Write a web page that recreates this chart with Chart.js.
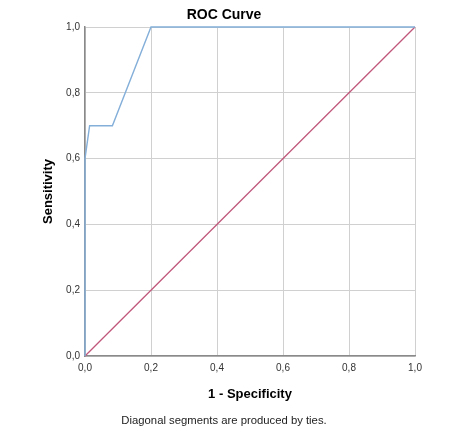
<!DOCTYPE html>
<html>
<head>
<meta charset="utf-8">
<script src="https://cdn.jsdelivr.net/npm/chart.js@4"></script>
<style>
  html, body { margin: 0; padding: 0; background: #fff; }
  #wrap { width: 476px; height: 437px; position: relative; }
</style>
</head>
<body>
<div id="wrap"><canvas id="chart"></canvas></div>
<script>
const rocX = [0, 0, 0.014, 0.083, 0.2, 1];
const rocY = [0, 0.6, 0.7, 0.7, 1, 1];
const refX = [0, 1];
const refY = [0, 1];
const tickValues = [0, 0.2, 0.4, 0.6, 0.8, 1];

const toPoints = (xs, ys) => xs.map((x, i) => ({ x: x, y: ys[i] }));
const fmt = v => v.toFixed(1).replace('.', ',');

// title and footnote drawn as plain text
const notes = {
    id: 'notes',
    afterDraw(chart) {
        const ctx = chart.ctx;
        ctx.save();
        ctx.fillStyle = '#000';
        ctx.textAlign = 'center';
        ctx.textBaseline = 'middle';
        ctx.font = 'bold 14px "Liberation Sans", Arial, sans-serif';
        ctx.fillText('ROC Curve', 224, 15);
        ctx.font = '11.3px "Liberation Sans", Arial, sans-serif';
        ctx.fillStyle = '#222';
        ctx.fillText('Diagonal segments are produced by ties.', 224, 421);
        ctx.restore();
    }
};

new Chart(document.getElementById('chart'), {
    type: 'scatter',
    data: {
        datasets: [{
            label: 'ROC',
            data: toPoints(rocX, rocY),
            showLine: true,
            clip: false,
            borderColor: '#84afd9',
            borderWidth: 1.4,
            pointRadius: 0,
            tension: 0,
        },
        {
            label: 'Reference',
            data: toPoints(refX, refY),
            showLine: true,
            clip: false,
            borderColor: '#c0587c',
            borderWidth: 1.3,
            pointRadius: 0,
        }]
    },
    options: {
        responsive: true,
        maintainAspectRatio: false,
        animation: false,
        layout: { padding: { top: 27, right: 61, left: 0, bottom: 0 } },
        plugins: { legend: { display: false }, tooltip: { enabled: false } },
        scales: {
            x: {
                min: 0,
                max: 1,
                afterFit: s => { s.height = 81; },
                afterBuildTicks: s => { s.ticks = tickValues.map(v => ({ value: v })); },
                grid: { color: '#d0d0d0', drawTicks: false },
                border: { color: '#8a8a8a', width: 1.5 },
                ticks: {
                    padding: 6,
                    color: '#333',
                    font: { family: '"Liberation Sans", Arial', size: 10 },
                    callback: v => fmt(v),
                },
                title: {
                    display: true,
                    text: '1 - Specificity',
                    color: '#000',
                    font: { family: '"Liberation Sans", Arial', size: 13, weight: 'bold' },
                    padding: { top: 0, bottom: 35 },
                }
            },
            y: {
                min: 0,
                max: 1,
                afterFit: s => { s.width = 85; },
                afterBuildTicks: s => { s.ticks = tickValues.map(v => ({ value: v })); },
                grid: { color: '#d0d0d0', drawTicks: false },
                border: { color: '#8a8a8a', width: 1.5 },
                ticks: {
                    padding: 5,
                    color: '#333',
                    font: { family: '"Liberation Sans", Arial', size: 10 },
                    callback: v => fmt(v),
                },
                title: {
                    display: true,
                    text: 'Sensitivity',
                    color: '#000',
                    font: { family: '"Liberation Sans", Arial', size: 13, weight: 'bold' },
                    padding: { top: 41, bottom: 0 },
                }
            }
        }
    },
    plugins: [notes]
});
</script>
</body>
</html>
